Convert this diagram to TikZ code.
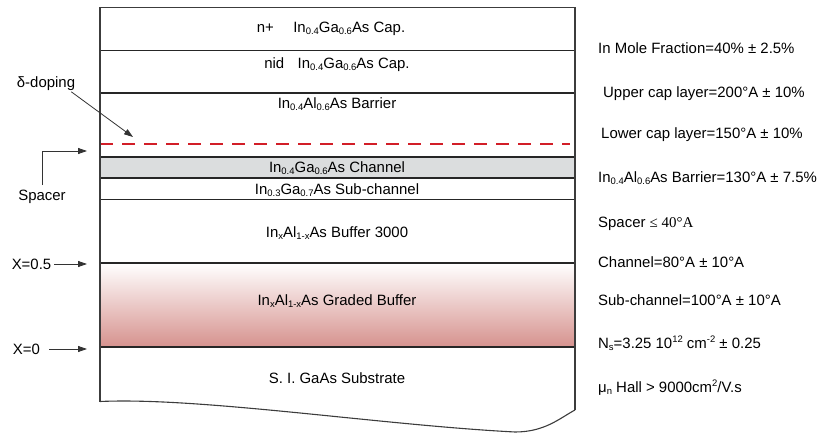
\documentclass[tikz,border=0pt]{standalone}
\usepackage{fontspec}
\setmainfont{Liberation Sans}
\newfontfamily\serifface{Liberation Serif}
\usetikzlibrary{arrows.meta}

\definecolor{chgray}{RGB}{219,221,222}
\definecolor{graderose}{RGB}{214,146,142}
\definecolor{dopered}{RGB}{210,30,40}
\definecolor{edgegray}{RGB}{60,60,60}
\newcommand{\lo}[1]{\raisebox{-0.3ex}{\fontsize{9.5}{10}\selectfont #1}}
\newcommand{\hi}[1]{\raisebox{0.75ex}{\fontsize{9.5}{10}\selectfont #1}}

\begin{document}
\begin{tikzpicture}[x=1bp, y=-1bp,
  font=\fontsize{15}{18}\selectfont,
  layerline/.style={line width=1.3bp, draw=black!85},
  edge/.style={line width=1.1bp, draw=edgegray},
  layertext/.style={anchor=center, inner sep=0pt, text height=12bp, text depth=1.2bp},
  spec/.style={anchor=west, inner sep=0pt, text height=12bp, text depth=1.2bp},
  marker/.style={inner sep=3bp, text height=12bp, text depth=1.2bp},
  pointer/.style={-{Triangle[length=9bp,width=6bp]}, line width=0.8bp, draw=black!80},
  doping/.style={dopered, line width=1.5bp, dash pattern=on 13bp off 9bp}
]
\useasboundingbox (0,0) rectangle (820,435);

% layer fills
\fill[chgray] (100,157) rectangle (575,178);
\shade[top color=white, bottom color=graderose] (100,263) rectangle (575,347);

% layer boundaries
\draw[layerline] (100,50.5) -- (575,50.5);
\draw[layerline] (100,93) -- (575,93);
\draw[layerline] (100,157) -- (575,157);
\draw[layerline] (100,178) -- (575,178);
\draw[layerline] (100,199.5) -- (575,199.5);
\draw[layerline] (100,263) -- (575,263);
\draw[layerline] (100,347) -- (575,347);
\draw[doping] (100,144) -- (570,144);

% outline with broken-off substrate
\draw[edge] (100,401.5) -- (100,7.5) -- (575,7.5) -- (575,410);
\draw[edge] (100,401.5) .. controls (200,397) and (380,425) .. (515,432)
  .. controls (545,432) and (560,418) .. (575,410);

% layer names
\node[layertext] (ncap) at (331,27) {n+\hspace{1.3em}In\lo{0.4}Ga\lo{0.6}As Cap.};
\node[layertext] (nidcap) at (337,63) {nid\hspace{0.9em}In\lo{0.4}Ga\lo{0.6}As Cap.};
\node[layertext] (barrier) at (337,103) {In\lo{0.4}Al\lo{0.6}As Barrier};
\node[layertext] (channel) at (337,167) {In\lo{0.4}Ga\lo{0.6}As Channel};
\node[layertext] (subch) at (337,189) {In\lo{0.3}Ga\lo{0.7}As Sub-channel};
\node[layertext] (buffer) at (337,232) {In\lo{x}Al\lo{1-x}As Buffer 3000};
\node[layertext] (graded) at (337,300) {In\lo{x}Al\lo{1-x}As Graded Buffer};
\node[layertext] (substrate) at (337,378) {S. I. GaAs Substrate};

% markers on the left
\node[marker] (delta) at (46,82) {δ-doping};
\node[marker] (spacer) at (42,195) {Spacer};
\node[marker] (xhalf) at (31.5,264) {X=0.5};
\node[marker] (xzero) at (26.5,349) {X=0};
\coordinate (dopetip) at (133,137);
\coordinate (spacertip) at (87,151);
\coordinate (halftip) at (87,264);
\coordinate (zerotip) at (87,349);
\draw[pointer] ([xshift=-7bp]delta.south east) -- (dopetip);
\draw[pointer] (spacer.north) |- (spacertip);
\draw[pointer] (xhalf.east) -- (halftip);
\draw[pointer] ([xshift=6bp]xzero.east) -- (zerotip);

% specifications
\node[spec] (mole) at (598,48) {In Mole Fraction=40\% ± 2.5\%};
\node[spec] (uppercap) at (603,92) {Upper cap layer=200°A ± 10\%};
\node[spec] (lowercap) at (601,133) {Lower cap layer=150°A ± 10\%};
\node[spec] (barrierth) at (598,177) {In\lo{0.4}Al\lo{0.6}As Barrier=130°A ± 7.5\%};
\node[spec] (spacerth) at (598,222) {Spacer {\serifface ≤ 40°A}};
\node[spec] (channelth) at (598,262) {Channel=80°A ± 10°A};
\node[spec] (subchth) at (598,300) {Sub-channel=100°A ± 10°A};
\node[spec] (density) at (598,343) {N\lo{s}=3.25 10\hi{12} cm\hi{-2} ± 0.25};
\node[spec] (mobility) at (598,387) {μ\lo{n} Hall > 9000cm\hi{2}/V.s};

\end{tikzpicture}
\end{document}
